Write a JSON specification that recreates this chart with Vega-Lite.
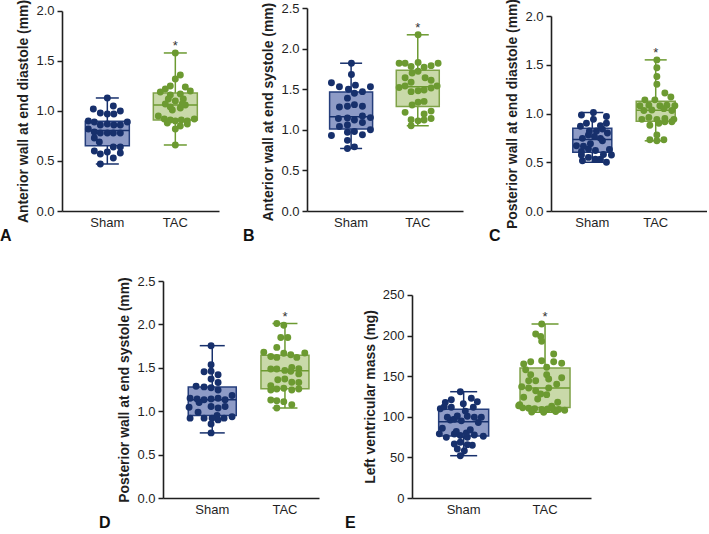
{
"$schema": "https://vega.github.io/schema/vega-lite/v6.json",
"background": "white",
"padding": {"left": 0, "top": -2, "right": 0, "bottom": 0},
"datasets": {"pts": [
{"p":"A","g":"Sham","v":1.13,"j":0},{"p":"A","g":"Sham","v":1.02,"j":-14},{"p":"A","g":"Sham","v":1.05,"j":6},{"p":"A","g":"Sham","v":0.98,"j":-7},{"p":"A","g":"Sham","v":0.97,"j":0},{"p":"A","g":"Sham","v":0.97,"j":6.5},{"p":"A","g":"Sham","v":1.0,"j":13},{"p":"A","g":"Sham","v":0.9,"j":-19},{"p":"A","g":"Sham","v":0.89,"j":-13},{"p":"A","g":"Sham","v":0.89,"j":20},{"p":"A","g":"Sham","v":0.86,"j":-7},{"p":"A","g":"Sham","v":0.87,"j":0},{"p":"A","g":"Sham","v":0.86,"j":6.5},{"p":"A","g":"Sham","v":0.86,"j":13},{"p":"A","g":"Sham","v":0.82,"j":-19},{"p":"A","g":"Sham","v":0.79,"j":-13},{"p":"A","g":"Sham","v":0.78,"j":-7},{"p":"A","g":"Sham","v":0.78,"j":0},{"p":"A","g":"Sham","v":0.78,"j":6},{"p":"A","g":"Sham","v":0.78,"j":13},{"p":"A","g":"Sham","v":0.73,"j":-13},{"p":"A","g":"Sham","v":0.69,"j":-8},{"p":"A","g":"Sham","v":0.64,"j":6},{"p":"A","g":"Sham","v":0.64,"j":13},{"p":"A","g":"Sham","v":0.6,"j":-13},{"p":"A","g":"Sham","v":0.57,"j":-7},{"p":"A","g":"Sham","v":0.59,"j":0},{"p":"A","g":"Sham","v":0.58,"j":13},{"p":"A","g":"Sham","v":0.53,"j":6},{"p":"A","g":"Sham","v":0.47,"j":-7},
{"p":"A","g":"TAC","v":1.58,"j":0},{"p":"A","g":"TAC","v":1.36,"j":5},{"p":"A","g":"TAC","v":1.32,"j":0},{"p":"A","g":"TAC","v":1.25,"j":-5},{"p":"A","g":"TAC","v":1.24,"j":10},{"p":"A","g":"TAC","v":1.22,"j":-10},{"p":"A","g":"TAC","v":1.2,"j":15},{"p":"A","g":"TAC","v":1.19,"j":-15},{"p":"A","g":"TAC","v":1.17,"j":5},{"p":"A","g":"TAC","v":1.16,"j":-5},{"p":"A","g":"TAC","v":1.12,"j":-7},{"p":"A","g":"TAC","v":1.12,"j":8},{"p":"A","g":"TAC","v":1.1,"j":0},{"p":"A","g":"TAC","v":1.07,"j":-10},{"p":"A","g":"TAC","v":1.06,"j":10},{"p":"A","g":"TAC","v":1.04,"j":-5},{"p":"A","g":"TAC","v":1.03,"j":5},{"p":"A","g":"TAC","v":1.01,"j":-3},{"p":"A","g":"TAC","v":1.07,"j":7},{"p":"A","g":"TAC","v":0.95,"j":-17},{"p":"A","g":"TAC","v":0.92,"j":19},{"p":"A","g":"TAC","v":0.92,"j":-11},{"p":"A","g":"TAC","v":0.91,"j":-5},{"p":"A","g":"TAC","v":0.91,"j":6},{"p":"A","g":"TAC","v":0.9,"j":12},{"p":"A","g":"TAC","v":0.9,"j":0},{"p":"A","g":"TAC","v":0.88,"j":-8},{"p":"A","g":"TAC","v":0.87,"j":12},{"p":"A","g":"TAC","v":0.85,"j":5},{"p":"A","g":"TAC","v":0.82,"j":0},{"p":"A","g":"TAC","v":0.66,"j":0},
{"p":"B","g":"Sham","v":1.82,"j":0},{"p":"B","g":"Sham","v":1.68,"j":0},{"p":"B","g":"Sham","v":1.58,"j":-20},{"p":"B","g":"Sham","v":1.53,"j":-12},{"p":"B","g":"Sham","v":1.5,"j":-3},{"p":"B","g":"Sham","v":1.55,"j":4},{"p":"B","g":"Sham","v":1.47,"j":11},{"p":"B","g":"Sham","v":1.53,"j":19},{"p":"B","g":"Sham","v":1.45,"j":3},{"p":"B","g":"Sham","v":1.39,"j":-4},{"p":"B","g":"Sham","v":1.28,"j":-12},{"p":"B","g":"Sham","v":1.29,"j":-4},{"p":"B","g":"Sham","v":1.31,"j":3},{"p":"B","g":"Sham","v":1.29,"j":11},{"p":"B","g":"Sham","v":1.14,"j":-13},{"p":"B","g":"Sham","v":1.145,"j":-4},{"p":"B","g":"Sham","v":1.12,"j":3},{"p":"B","g":"Sham","v":1.17,"j":11},{"p":"B","g":"Sham","v":1.15,"j":19},{"p":"B","g":"Sham","v":1.04,"j":-12},{"p":"B","g":"Sham","v":1.06,"j":-4},{"p":"B","g":"Sham","v":1.09,"j":11},{"p":"B","g":"Sham","v":0.98,"j":3},{"p":"B","g":"Sham","v":0.97,"j":-4},{"p":"B","g":"Sham","v":1.0,"j":19},{"p":"B","g":"Sham","v":0.93,"j":-20},{"p":"B","g":"Sham","v":0.94,"j":11},{"p":"B","g":"Sham","v":0.87,"j":-4},{"p":"B","g":"Sham","v":0.77,"j":-4},{"p":"B","g":"Sham","v":0.79,"j":3},
{"p":"B","g":"TAC","v":2.17,"j":0},{"p":"B","g":"TAC","v":1.82,"j":-19},{"p":"B","g":"TAC","v":1.82,"j":-13},{"p":"B","g":"TAC","v":1.78,"j":-7},{"p":"B","g":"TAC","v":1.83,"j":0},{"p":"B","g":"TAC","v":1.77,"j":6},{"p":"B","g":"TAC","v":1.79,"j":13},{"p":"B","g":"TAC","v":1.82,"j":20},{"p":"B","g":"TAC","v":1.64,"j":-13},{"p":"B","g":"TAC","v":1.7,"j":-6},{"p":"B","g":"TAC","v":1.72,"j":0},{"p":"B","g":"TAC","v":1.64,"j":7},{"p":"B","g":"TAC","v":1.61,"j":13},{"p":"B","g":"TAC","v":1.585,"j":-7},{"p":"B","g":"TAC","v":1.52,"j":-19},{"p":"B","g":"TAC","v":1.54,"j":-13},{"p":"B","g":"TAC","v":1.47,"j":-7},{"p":"B","g":"TAC","v":1.48,"j":0},{"p":"B","g":"TAC","v":1.49,"j":6},{"p":"B","g":"TAC","v":1.515,"j":13},{"p":"B","g":"TAC","v":1.54,"j":19},{"p":"B","g":"TAC","v":1.34,"j":0},{"p":"B","g":"TAC","v":1.35,"j":6},{"p":"B","g":"TAC","v":1.305,"j":-6},{"p":"B","g":"TAC","v":1.215,"j":-13},{"p":"B","g":"TAC","v":1.195,"j":6},{"p":"B","g":"TAC","v":1.23,"j":13},{"p":"B","g":"TAC","v":1.125,"j":-7},{"p":"B","g":"TAC","v":1.11,"j":0},{"p":"B","g":"TAC","v":1.12,"j":6},{"p":"B","g":"TAC","v":1.14,"j":13},{"p":"B","g":"TAC","v":1.05,"j":-7},
{"p":"C","g":"Sham","v":0.5,"j":13},{"p":"C","g":"Sham","v":0.515,"j":-11},{"p":"C","g":"Sham","v":0.53,"j":2},{"p":"C","g":"Sham","v":0.53,"j":7},{"p":"C","g":"Sham","v":0.55,"j":-5},{"p":"C","g":"Sham","v":0.575,"j":-12},{"p":"C","g":"Sham","v":0.575,"j":18},{"p":"C","g":"Sham","v":0.58,"j":10},{"p":"C","g":"Sham","v":0.61,"j":-12},{"p":"C","g":"Sham","v":0.62,"j":2},{"p":"C","g":"Sham","v":0.63,"j":16},{"p":"C","g":"Sham","v":0.635,"j":-5},{"p":"C","g":"Sham","v":0.665,"j":-10},{"p":"C","g":"Sham","v":0.67,"j":-17},{"p":"C","g":"Sham","v":0.69,"j":-3},{"p":"C","g":"Sham","v":0.72,"j":9},{"p":"C","g":"Sham","v":0.745,"j":-11},{"p":"C","g":"Sham","v":0.745,"j":7},{"p":"C","g":"Sham","v":0.765,"j":1},{"p":"C","g":"Sham","v":0.78,"j":-5},{"p":"C","g":"Sham","v":0.8,"j":14},{"p":"C","g":"Sham","v":0.82,"j":-4},{"p":"C","g":"Sham","v":0.82,"j":3},{"p":"C","g":"Sham","v":0.84,"j":9},{"p":"C","g":"Sham","v":0.87,"j":-13},{"p":"C","g":"Sham","v":0.875,"j":7},{"p":"C","g":"Sham","v":0.9,"j":-7},{"p":"C","g":"Sham","v":0.9,"j":13},{"p":"C","g":"Sham","v":0.94,"j":0},{"p":"C","g":"Sham","v":0.97,"j":13},{"p":"C","g":"Sham","v":0.985,"j":-12},{"p":"C","g":"Sham","v":1.01,"j":0},
{"p":"C","g":"TAC","v":1.55,"j":0},{"p":"C","g":"TAC","v":1.47,"j":0},{"p":"C","g":"TAC","v":1.38,"j":0},{"p":"C","g":"TAC","v":1.3,"j":0},{"p":"C","g":"TAC","v":1.21,"j":8},{"p":"C","g":"TAC","v":1.17,"j":14},{"p":"C","g":"TAC","v":1.14,"j":-12},{"p":"C","g":"TAC","v":1.14,"j":-2},{"p":"C","g":"TAC","v":1.08,"j":-17},{"p":"C","g":"TAC","v":1.085,"j":-8},{"p":"C","g":"TAC","v":1.08,"j":3},{"p":"C","g":"TAC","v":1.085,"j":10},{"p":"C","g":"TAC","v":1.08,"j":18},{"p":"C","g":"TAC","v":1.03,"j":-13},{"p":"C","g":"TAC","v":1.035,"j":-5},{"p":"C","g":"TAC","v":1.05,"j":7},{"p":"C","g":"TAC","v":1.03,"j":15},{"p":"C","g":"TAC","v":0.94,"j":-15},{"p":"C","g":"TAC","v":0.96,"j":-8},{"p":"C","g":"TAC","v":0.94,"j":0},{"p":"C","g":"TAC","v":0.95,"j":8},{"p":"C","g":"TAC","v":0.94,"j":17},{"p":"C","g":"TAC","v":0.88,"j":-7},{"p":"C","g":"TAC","v":0.9,"j":2},{"p":"C","g":"TAC","v":0.915,"j":8},{"p":"C","g":"TAC","v":0.915,"j":15},{"p":"C","g":"TAC","v":0.78,"j":0},{"p":"C","g":"TAC","v":0.73,"j":-7},{"p":"C","g":"TAC","v":0.72,"j":0},{"p":"C","g":"TAC","v":0.73,"j":7},
{"p":"D","g":"Sham","v":1.755,"j":0},{"p":"D","g":"Sham","v":1.535,"j":0},{"p":"D","g":"Sham","v":1.455,"j":-7},{"p":"D","g":"Sham","v":1.46,"j":0},{"p":"D","g":"Sham","v":1.42,"j":7},{"p":"D","g":"Sham","v":1.37,"j":0},{"p":"D","g":"Sham","v":1.33,"j":7},{"p":"D","g":"Sham","v":1.287,"j":-15},{"p":"D","g":"Sham","v":1.28,"j":-7},{"p":"D","g":"Sham","v":1.27,"j":0},{"p":"D","g":"Sham","v":1.244,"j":7},{"p":"D","g":"Sham","v":1.18,"j":21},{"p":"D","g":"Sham","v":1.149,"j":-21},{"p":"D","g":"Sham","v":1.14,"j":-14},{"p":"D","g":"Sham","v":1.132,"j":-7},{"p":"D","g":"Sham","v":1.14,"j":0},{"p":"D","g":"Sham","v":1.149,"j":7},{"p":"D","g":"Sham","v":1.132,"j":14},{"p":"D","g":"Sham","v":1.045,"j":-22},{"p":"D","g":"Sham","v":1.1,"j":-12},{"p":"D","g":"Sham","v":1.055,"j":0},{"p":"D","g":"Sham","v":1.037,"j":7},{"p":"D","g":"Sham","v":1.055,"j":14},{"p":"D","g":"Sham","v":0.987,"j":-13},{"p":"D","g":"Sham","v":0.95,"j":6},{"p":"D","g":"Sham","v":0.92,"j":-21},{"p":"D","g":"Sham","v":0.92,"j":-7},{"p":"D","g":"Sham","v":0.92,"j":1},{"p":"D","g":"Sham","v":0.92,"j":13},{"p":"D","g":"Sham","v":0.937,"j":21},{"p":"D","g":"Sham","v":0.9,"j":7},{"p":"D","g":"Sham","v":0.853,"j":0},{"p":"D","g":"Sham","v":0.75,"j":0},
{"p":"D","g":"TAC","v":2.01,"j":-7},{"p":"D","g":"TAC","v":1.99,"j":0},{"p":"D","g":"TAC","v":1.85,"j":-3},{"p":"D","g":"TAC","v":1.85,"j":4},{"p":"D","g":"TAC","v":1.735,"j":-7},{"p":"D","g":"TAC","v":1.68,"j":-20},{"p":"D","g":"TAC","v":1.63,"j":-13},{"p":"D","g":"TAC","v":1.62,"j":-7},{"p":"D","g":"TAC","v":1.667,"j":0},{"p":"D","g":"TAC","v":1.65,"j":7},{"p":"D","g":"TAC","v":1.62,"j":13},{"p":"D","g":"TAC","v":1.67,"j":21},{"p":"D","g":"TAC","v":1.486,"j":-13},{"p":"D","g":"TAC","v":1.486,"j":-7},{"p":"D","g":"TAC","v":1.505,"j":8},{"p":"D","g":"TAC","v":1.49,"j":15},{"p":"D","g":"TAC","v":1.47,"j":1},{"p":"D","g":"TAC","v":1.46,"j":7},{"p":"D","g":"TAC","v":1.43,"j":15},{"p":"D","g":"TAC","v":1.363,"j":-6},{"p":"D","g":"TAC","v":1.37,"j":1},{"p":"D","g":"TAC","v":1.294,"j":-13},{"p":"D","g":"TAC","v":1.333,"j":8},{"p":"D","g":"TAC","v":1.33,"j":15},{"p":"D","g":"TAC","v":1.244,"j":-13},{"p":"D","g":"TAC","v":1.256,"j":-7},{"p":"D","g":"TAC","v":1.264,"j":0},{"p":"D","g":"TAC","v":1.244,"j":8},{"p":"D","g":"TAC","v":1.256,"j":15},{"p":"D","g":"TAC","v":1.129,"j":-13},{"p":"D","g":"TAC","v":1.12,"j":-7},{"p":"D","g":"TAC","v":1.11,"j":0},{"p":"D","g":"TAC","v":1.037,"j":-7},{"p":"D","g":"TAC","v":1.075,"j":8},
{"p":"E","g":"Sham","v":52.1,"j":0},{"p":"E","g":"Sham","v":58.3,"j":4},{"p":"E","g":"Sham","v":60.3,"j":-3},{"p":"E","g":"Sham","v":64.9,"j":12},{"p":"E","g":"Sham","v":65.7,"j":7},{"p":"E","g":"Sham","v":66.5,"j":-6},{"p":"E","g":"Sham","v":68.6,"j":0},{"p":"E","g":"Sham","v":74.7,"j":-14},{"p":"E","g":"Sham","v":74.7,"j":7},{"p":"E","g":"Sham","v":76,"j":23},{"p":"E","g":"Sham","v":77,"j":0},{"p":"E","g":"Sham","v":77.6,"j":14},{"p":"E","g":"Sham","v":78.8,"j":-6},{"p":"E","g":"Sham","v":79,"j":-21},{"p":"E","g":"Sham","v":80,"j":6},{"p":"E","g":"Sham","v":82,"j":-4},{"p":"E","g":"Sham","v":84,"j":10},{"p":"E","g":"Sham","v":86,"j":-18},{"p":"E","g":"Sham","v":93,"j":18},{"p":"E","g":"Sham","v":95,"j":1},{"p":"E","g":"Sham","v":96,"j":-10},{"p":"E","g":"Sham","v":97,"j":-6},{"p":"E","g":"Sham","v":99.4,"j":-13},{"p":"E","g":"Sham","v":99.4,"j":14},{"p":"E","g":"Sham","v":99.4,"j":21},{"p":"E","g":"Sham","v":100.7,"j":7},{"p":"E","g":"Sham","v":101,"j":-3},{"p":"E","g":"Sham","v":107,"j":5},{"p":"E","g":"Sham","v":110,"j":-20},{"p":"E","g":"Sham","v":111.7,"j":-9},{"p":"E","g":"Sham","v":111.7,"j":13},{"p":"E","g":"Sham","v":112.4,"j":-16},{"p":"E","g":"Sham","v":116,"j":3},{"p":"E","g":"Sham","v":117.8,"j":-15},{"p":"E","g":"Sham","v":118.6,"j":17},{"p":"E","g":"Sham","v":121.1,"j":-9},{"p":"E","g":"Sham","v":122.8,"j":11},{"p":"E","g":"Sham","v":130.9,"j":0},
{"p":"E","g":"TAC","v":214.3,"j":0},{"p":"E","g":"TAC","v":202,"j":-6},{"p":"E","g":"TAC","v":199,"j":-1},{"p":"E","g":"TAC","v":193,"j":0},{"p":"E","g":"TAC","v":177.3,"j":12},{"p":"E","g":"TAC","v":169.1,"j":0},{"p":"E","g":"TAC","v":167.9,"j":-11},{"p":"E","g":"TAC","v":167.9,"j":12},{"p":"E","g":"TAC","v":166,"j":20},{"p":"E","g":"TAC","v":165,"j":-18},{"p":"E","g":"TAC","v":161,"j":5},{"p":"E","g":"TAC","v":158,"j":-16},{"p":"E","g":"TAC","v":151.8,"j":-11},{"p":"E","g":"TAC","v":151.8,"j":5},{"p":"E","g":"TAC","v":148,"j":20},{"p":"E","g":"TAC","v":146.5,"j":7},{"p":"E","g":"TAC","v":144.5,"j":-13},{"p":"E","g":"TAC","v":144.5,"j":-6},{"p":"E","g":"TAC","v":140,"j":15},{"p":"E","g":"TAC","v":137,"j":-20},{"p":"E","g":"TAC","v":135.5,"j":-13},{"p":"E","g":"TAC","v":135.5,"j":7},{"p":"E","g":"TAC","v":132.1,"j":-6},{"p":"E","g":"TAC","v":128.1,"j":-1},{"p":"E","g":"TAC","v":127.3,"j":5},{"p":"E","g":"TAC","v":124,"j":-18},{"p":"E","g":"TAC","v":121.9,"j":-4},{"p":"E","g":"TAC","v":118,"j":16},{"p":"E","g":"TAC","v":115,"j":-22},{"p":"E","g":"TAC","v":113,"j":10},{"p":"E","g":"TAC","v":113.5,"j":-23},{"p":"E","g":"TAC","v":111,"j":-19},{"p":"E","g":"TAC","v":110.5,"j":-13},{"p":"E","g":"TAC","v":110,"j":-7},{"p":"E","g":"TAC","v":109,"j":0},{"p":"E","g":"TAC","v":109.5,"j":6},{"p":"E","g":"TAC","v":110,"j":11},{"p":"E","g":"TAC","v":109,"j":17},{"p":"E","g":"TAC","v":108,"j":23},{"p":"E","g":"TAC","v":106,"j":-10},{"p":"E","g":"TAC","v":105.5,"j":2},{"p":"E","g":"TAC","v":106.5,"j":14}
]},
"spacing": 273,
"bounds": "flush",
"vconcat": [
{"hconcat": [
{"width": 157, "height": 203, "data": {"name": "pts"}, "transform": [{"filter": "datum.p === 'A'"}],
 "title": {"text": "A", "dx": -62},
 "encoding": {"x": {"field": "g", "type": "nominal", "sort": ["Sham","TAC"], "scale": {"paddingInner": 0.5, "paddingOuter": 0.4045, "align": 0.515}}},
 "layer": [
  {"transform": [{"aggregate": [{"op":"min","field":"v","as":"lo"},{"op":"max","field":"v","as":"hi"},{"op":"q1","field":"v","as":"q1"},{"op":"q3","field":"v","as":"q3"},{"op":"median","field":"v","as":"md"}], "groupby": ["g"]}],
   "layer": [
    {"mark": {"type": "rule", "strokeWidth": 1.5}, "encoding": {"y": {"field": "lo", "type": "quantitative", "title": "Anterior wall at end diastole (mm)", "scale": {"domain": [0, 2.0296], "nice": false}, "axis": {"values": [0,0.5,1,1.5,2], "format": ".1f", "domainDash": [200, 20], "titleY": 103}}, "y2": {"field": "hi"}, "color": {"field":"g","type":"nominal","scale":{"domain":["Sham","TAC"],"range":["#17306c","#6c9a31"]},"legend":null}}},
    {"mark": {"type": "bar", "width": 44, "strokeWidth": 1.5}, "encoding": {"y": {"field": "q1", "type": "quantitative", "title": "Anterior wall at end diastole (mm)"}, "y2": {"field": "q3"}, "fill": {"field":"g","type":"nominal","scale":{"domain":["Sham","TAC"],"range":["#8e9bc6","#c9d9a9"]},"legend":null}, "stroke": {"field":"g","type":"nominal","scale":{"domain":["Sham","TAC"],"range":["#253e7c","#7fa248"]},"legend":null}}},
    {"mark": {"type": "tick", "size": 44, "thickness": 1.5, "opacity": 1}, "encoding": {"y": {"field": "md", "type": "quantitative", "title": "Anterior wall at end diastole (mm)"}, "color": {"field":"g","type":"nominal","legend":null}}},
    {"mark": {"type": "tick", "size": 23, "thickness": 1.5, "opacity": 1}, "encoding": {"y": {"field": "lo", "type": "quantitative", "title": "Anterior wall at end diastole (mm)"}, "color": {"field":"g","type":"nominal","legend":null}}},
    {"mark": {"type": "tick", "size": 23, "thickness": 1.5, "opacity": 1}, "encoding": {"y": {"field": "hi", "type": "quantitative", "title": "Anterior wall at end diastole (mm)"}, "color": {"field":"g","type":"nominal","legend":null}}},
    {"transform": [{"filter": "datum.g === 'TAC'"}], "mark": {"type": "text", "text": "*", "fontSize": 13, "baseline": "alphabetic", "dy": -3, "color": "#333333"}, "encoding": {"y": {"field": "hi", "type": "quantitative", "title": "Anterior wall at end diastole (mm)"}}}
   ]},
  {"mark": {"type": "circle", "size": 48, "opacity": 1}, "encoding": {"y": {"field": "v", "type": "quantitative", "title": "Anterior wall at end diastole (mm)"}, "xOffset": {"field": "j", "type": "quantitative", "scale": {"domain": [-34, 34], "range": [-17, 51]}}, "color": {"field":"g","type":"nominal","legend":null}}}
 ]},
{"width": 156, "height": 203, "data": {"name": "pts"}, "transform": [{"filter": "datum.p === 'B'"}],
 "title": {"text": "B", "dx": -64},
 "encoding": {"x": {"field": "g", "type": "nominal", "sort": ["Sham","TAC"], "scale": {"paddingInner": 0.5, "paddingOuter": 0.42, "align": 0.49}}},
 "layer": [
  {"transform": [{"aggregate": [{"op":"min","field":"v","as":"lo"},{"op":"max","field":"v","as":"hi"},{"op":"q1","field":"v","as":"q1"},{"op":"q3","field":"v","as":"q3"},{"op":"median","field":"v","as":"md"}], "groupby": ["g"]}],
   "layer": [
    {"mark": {"type": "rule", "strokeWidth": 1.5}, "encoding": {"y": {"field": "lo", "type": "quantitative", "title": "Anterior wall at end systole (mm)", "scale": {"domain": [0, 2.5], "nice": false}, "axis": {"values": [0,0.5,1,1.5,2,2.5], "format": ".1f", "titleY": 103.5}}, "y2": {"field": "hi"}, "color": {"field":"g","type":"nominal","scale":{"domain":["Sham","TAC"],"range":["#17306c","#6c9a31"]},"legend":null}}},
    {"mark": {"type": "bar", "width": 43, "strokeWidth": 1.5}, "encoding": {"y": {"field": "q1", "type": "quantitative", "title": "Anterior wall at end systole (mm)"}, "y2": {"field": "q3"}, "fill": {"field":"g","type":"nominal","scale":{"domain":["Sham","TAC"],"range":["#8e9bc6","#c9d9a9"]},"legend":null}, "stroke": {"field":"g","type":"nominal","scale":{"domain":["Sham","TAC"],"range":["#253e7c","#7fa248"]},"legend":null}}},
    {"mark": {"type": "tick", "size": 43, "thickness": 1.5, "opacity": 1}, "encoding": {"y": {"field": "md", "type": "quantitative", "title": "Anterior wall at end systole (mm)"}, "color": {"field":"g","type":"nominal","legend":null}}},
    {"mark": {"type": "tick", "size": 22, "thickness": 1.5, "opacity": 1}, "encoding": {"y": {"field": "lo", "type": "quantitative", "title": "Anterior wall at end systole (mm)"}, "color": {"field":"g","type":"nominal","legend":null}}},
    {"mark": {"type": "tick", "size": 22, "thickness": 1.5, "opacity": 1}, "encoding": {"y": {"field": "hi", "type": "quantitative", "title": "Anterior wall at end systole (mm)"}, "color": {"field":"g","type":"nominal","legend":null}}},
    {"transform": [{"filter": "datum.g === 'TAC'"}], "mark": {"type": "text", "text": "*", "fontSize": 13, "baseline": "alphabetic", "dy": -3, "color": "#333333"}, "encoding": {"y": {"field": "hi", "type": "quantitative", "title": "Anterior wall at end systole (mm)"}}}
   ]},
  {"mark": {"type": "circle", "size": 48, "opacity": 1}, "encoding": {"y": {"field": "v", "type": "quantitative", "title": "Anterior wall at end systole (mm)"}, "xOffset": {"field": "j", "type": "quantitative", "scale": {"domain": [-34, 34], "range": [-17.3, 50.7]}}, "color": {"field":"g","type":"nominal","legend":null}}}
 ]},
{"width": 156, "height": 203, "data": {"name": "pts"}, "transform": [{"filter": "datum.p === 'C'"}],
 "title": {"text": "C", "dx": -62},
 "encoding": {"x": {"field": "g", "type": "nominal", "sort": ["Sham","TAC"], "scale": {"paddingInner": 0.5, "paddingOuter": 0.48, "align": 0.418}}},
 "layer": [
  {"transform": [{"aggregate": [{"op":"min","field":"v","as":"lo"},{"op":"max","field":"v","as":"hi"},{"op":"q1","field":"v","as":"q1"},{"op":"q3","field":"v","as":"q3"},{"op":"median","field":"v","as":"md"}], "groupby": ["g"]}],
   "layer": [
    {"mark": {"type": "rule", "strokeWidth": 1.5}, "encoding": {"y": {"field": "lo", "type": "quantitative", "title": "Posterior wall at end diastole (mm)", "scale": {"domain": [0, 2.0821], "nice": false}, "axis": {"values": [0,0.5,1,1.5,2], "format": ".1f", "domainDash": [195, 30], "titleY": 105.5}}, "y2": {"field": "hi"}, "color": {"field":"g","type":"nominal","scale":{"domain":["Sham","TAC"],"range":["#17306c","#6c9a31"]},"legend":null}}},
    {"mark": {"type": "bar", "width": 39, "strokeWidth": 1.5}, "encoding": {"y": {"field": "q1", "type": "quantitative", "title": "Posterior wall at end diastole (mm)"}, "y2": {"field": "q3"}, "fill": {"field":"g","type":"nominal","scale":{"domain":["Sham","TAC"],"range":["#8e9bc6","#c9d9a9"]},"legend":null}, "stroke": {"field":"g","type":"nominal","scale":{"domain":["Sham","TAC"],"range":["#253e7c","#7fa248"]},"legend":null}}},
    {"mark": {"type": "tick", "size": 39, "thickness": 1.5, "opacity": 1}, "encoding": {"y": {"field": "md", "type": "quantitative", "title": "Posterior wall at end diastole (mm)"}, "color": {"field":"g","type":"nominal","legend":null}}},
    {"mark": {"type": "tick", "size": 22, "thickness": 1.5, "opacity": 1}, "encoding": {"y": {"field": "lo", "type": "quantitative", "title": "Posterior wall at end diastole (mm)"}, "color": {"field":"g","type":"nominal","legend":null}}},
    {"mark": {"type": "tick", "size": 22, "thickness": 1.5, "opacity": 1}, "encoding": {"y": {"field": "hi", "type": "quantitative", "title": "Posterior wall at end diastole (mm)"}, "color": {"field":"g","type":"nominal","legend":null}}},
    {"transform": [{"filter": "datum.g === 'TAC'"}], "mark": {"type": "text", "text": "*", "fontSize": 13, "baseline": "alphabetic", "dy": -3, "color": "#333333"}, "encoding": {"y": {"field": "hi", "type": "quantitative", "title": "Posterior wall at end diastole (mm)"}}}
   ]},
  {"mark": {"type": "circle", "size": 48, "opacity": 1}, "encoding": {"y": {"field": "v", "type": "quantitative", "title": "Posterior wall at end diastole (mm)"}, "xOffset": {"field": "j", "type": "quantitative", "scale": {"domain": [-34, 34], "range": [-18.15, 49.85]}}, "color": {"field":"g","type":"nominal","legend":null}}}
 ]}
], "spacing": 88, "bounds": "flush"},
{"hconcat": [
{"width": 8, "height": 217, "data": {"values": []}, "mark": "point"},
{"width": 156, "height": 217, "data": {"name": "pts"}, "transform": [{"filter": "datum.p === 'D'"}],
 "title": {"text": "D", "dx": -64},
 "encoding": {"x": {"field": "g", "type": "nominal", "sort": ["Sham","TAC"], "scale": {"paddingInner": 0.5, "paddingOuter": 0.323, "align": 0.662}}},
 "layer": [
  {"transform": [{"aggregate": [{"op":"min","field":"v","as":"lo"},{"op":"max","field":"v","as":"hi"},{"op":"q1","field":"v","as":"q1"},{"op":"q3","field":"v","as":"q3"},{"op":"median","field":"v","as":"md"}], "groupby": ["g"]}],
   "layer": [
    {"mark": {"type": "rule", "strokeWidth": 1.5}, "encoding": {"y": {"field": "lo", "type": "quantitative", "title": "Posterior wall at end systole (mm)", "scale": {"domain": [0, 2.5], "nice": false}, "axis": {"values": [0,0.5,1,1.5,2,2.5], "format": ".1f"}}, "y2": {"field": "hi"}, "color": {"field":"g","type":"nominal","scale":{"domain":["Sham","TAC"],"range":["#17306c","#6c9a31"]},"legend":null}}},
    {"mark": {"type": "bar", "width": 48, "strokeWidth": 1.5}, "encoding": {"y": {"field": "q1", "type": "quantitative", "title": "Posterior wall at end systole (mm)"}, "y2": {"field": "q3"}, "fill": {"field":"g","type":"nominal","scale":{"domain":["Sham","TAC"],"range":["#8e9bc6","#c9d9a9"]},"legend":null}, "stroke": {"field":"g","type":"nominal","scale":{"domain":["Sham","TAC"],"range":["#253e7c","#7fa248"]},"legend":null}}},
    {"mark": {"type": "tick", "size": 48, "thickness": 1.5, "opacity": 1}, "encoding": {"y": {"field": "md", "type": "quantitative", "title": "Posterior wall at end systole (mm)"}, "color": {"field":"g","type":"nominal","legend":null}}},
    {"mark": {"type": "tick", "size": 25, "thickness": 1.5, "opacity": 1}, "encoding": {"y": {"field": "lo", "type": "quantitative", "title": "Posterior wall at end systole (mm)"}, "color": {"field":"g","type":"nominal","legend":null}}},
    {"mark": {"type": "tick", "size": 25, "thickness": 1.5, "opacity": 1}, "encoding": {"y": {"field": "hi", "type": "quantitative", "title": "Posterior wall at end systole (mm)"}, "color": {"field":"g","type":"nominal","legend":null}}},
    {"transform": [{"filter": "datum.g === 'TAC'"}], "mark": {"type": "text", "text": "*", "fontSize": 13, "baseline": "alphabetic", "dy": -3, "color": "#333333"}, "encoding": {"y": {"field": "hi", "type": "quantitative", "title": "Posterior wall at end systole (mm)"}}}
   ]},
  {"mark": {"type": "circle", "size": 48, "opacity": 1}, "encoding": {"y": {"field": "v", "type": "quantitative", "title": "Posterior wall at end systole (mm)"}, "xOffset": {"field": "j", "type": "quantitative", "scale": {"domain": [-34, 34], "range": [-15.8, 52.2]}}, "color": {"field":"g","type":"nominal","legend":null}}}
 ]},
{"width": 179, "height": 217, "data": {"name": "pts"}, "transform": [{"filter": "datum.p === 'E'"}],
 "title": {"text": "E", "dx": -67},
 "encoding": {"x": {"field": "g", "type": "nominal", "sort": ["Sham","TAC"], "scale": {"paddingInner": 0.5, "paddingOuter": 0.35, "align": 0.55}}},
 "layer": [
  {"transform": [{"aggregate": [{"op":"min","field":"v","as":"lo"},{"op":"max","field":"v","as":"hi"},{"op":"q1","field":"v","as":"q1"},{"op":"q3","field":"v","as":"q3"},{"op":"median","field":"v","as":"md"}], "groupby": ["g"]}],
   "layer": [
    {"mark": {"type": "rule", "strokeWidth": 1.5}, "encoding": {"y": {"field": "lo", "type": "quantitative", "title": "Left ventricular mass (mg)", "scale": {"domain": [0, 267.24], "nice": false}, "axis": {"values": [0,50,100,150,200,250], "format": "d", "domainDash": [203, 30], "titleY": 115.5}}, "y2": {"field": "hi"}, "color": {"field":"g","type":"nominal","scale":{"domain":["Sham","TAC"],"range":["#17306c","#6c9a31"]},"legend":null}}},
    {"mark": {"type": "bar", "width": 50, "strokeWidth": 1.5}, "encoding": {"y": {"field": "q1", "type": "quantitative", "title": "Left ventricular mass (mg)"}, "y2": {"field": "q3"}, "fill": {"field":"g","type":"nominal","scale":{"domain":["Sham","TAC"],"range":["#8e9bc6","#c9d9a9"]},"legend":null}, "stroke": {"field":"g","type":"nominal","scale":{"domain":["Sham","TAC"],"range":["#253e7c","#7fa248"]},"legend":null}}},
    {"mark": {"type": "tick", "size": 50, "thickness": 1.5, "opacity": 1}, "encoding": {"y": {"field": "md", "type": "quantitative", "title": "Left ventricular mass (mg)"}, "color": {"field":"g","type":"nominal","legend":null}}},
    {"mark": {"type": "tick", "size": 27, "thickness": 1.5, "opacity": 1}, "encoding": {"y": {"field": "lo", "type": "quantitative", "title": "Left ventricular mass (mg)"}, "color": {"field":"g","type":"nominal","legend":null}}},
    {"mark": {"type": "tick", "size": 27, "thickness": 1.5, "opacity": 1}, "encoding": {"y": {"field": "hi", "type": "quantitative", "title": "Left ventricular mass (mg)"}, "color": {"field":"g","type":"nominal","legend":null}}},
    {"transform": [{"filter": "datum.g === 'TAC'"}], "mark": {"type": "text", "text": "*", "fontSize": 13, "baseline": "alphabetic", "dy": -3, "color": "#333333"}, "encoding": {"y": {"field": "hi", "type": "quantitative", "title": "Left ventricular mass (mg)"}}}
   ]},
  {"mark": {"type": "circle", "size": 48, "opacity": 1}, "encoding": {"y": {"field": "v", "type": "quantitative", "title": "Left ventricular mass (mg)"}, "xOffset": {"field": "j", "type": "quantitative", "scale": {"domain": [-34, 34], "range": [-13.65, 54.35]}}, "color": {"field":"g","type":"nominal","legend":null}}}
 ]}
], "spacing": 93, "bounds": "flush"}
],
"config": {
 "view": {"stroke": null},
 "font": "Liberation Sans",
 "axis": {"grid": false, "domainColor": "#1f1f1f", "domainWidth": 1.6, "tickColor": "#1f1f1f", "tickWidth": 1.5, "labelFont": "Liberation Sans", "labelFontSize": 13, "labelColor": "#1f1f1f", "titleFont": "Liberation Sans", "titleFontSize": 13.9, "titleFontWeight": "bold", "titleColor": "#1f1f1f"},
 "axisY": {"tickSize": 5, "labelPadding": 3, "titlePadding": 5},
 "axisX": {"ticks": false, "labelPadding": 5, "labelAngle": 0, "title": null},
 "title": {"font": "Liberation Sans", "fontSize": 16, "fontWeight": "bold", "color": "#111111", "orient": "bottom", "anchor": "start", "frame": "group", "offset": -1, "baseline": "top"}
}
}
